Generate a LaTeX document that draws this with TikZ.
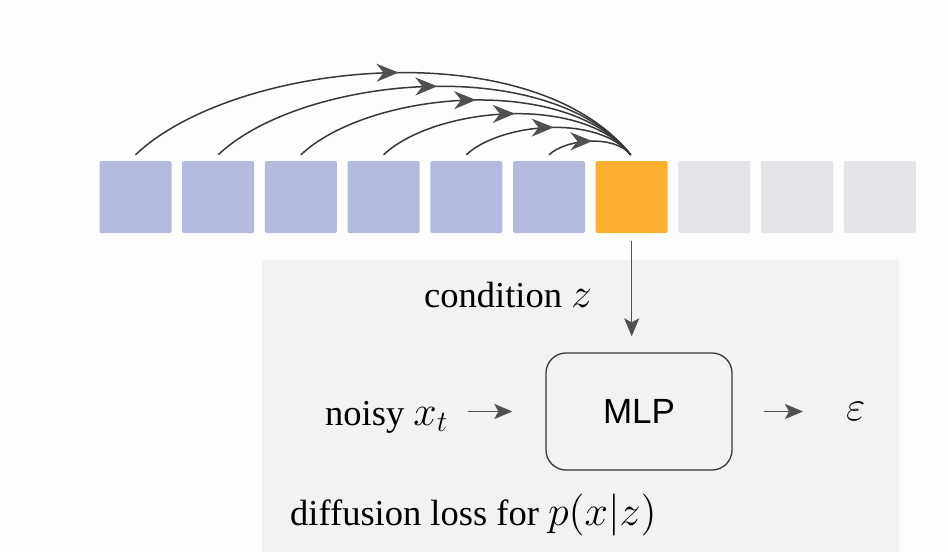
\documentclass[tikz,border=0pt]{standalone}
\usepackage{fontspec}
\setmainfont{Liberation Serif}
\newfontfamily\mlpfont{Liberation Sans}
\DeclareFontShape{OML}{cmm}{m}{it}{<-6>cmmi5<6-7>cmmi6<7-8>cmmi7<8-9>cmmi8<9-10>cmmi9<10-12>cmmi10<12->cmmi12}{}
\DeclareFontShape{OMS}{cmsy}{m}{n}{<-6>cmsy5<6-7>cmsy6<7-8>cmsy7<8-9>cmsy8<9-10>cmsy9<10->cmsy10}{}
\DeclareFontShape{OT1}{cmr}{m}{n}{<-6>cmr5<6-7>cmr6<7-8>cmr7<8-9>cmr8<9-10>cmr9<10-12>cmr10<12->cmr12}{}
\newcommand{\lgmath}[1]{{\fontsize{42}{48}\selectfont$#1$}}
\usetikzlibrary{arrows.meta,decorations.markings,calc}
\definecolor{bgc}{HTML}{FDFDFD}
\definecolor{panelc}{HTML}{F1F2F4}
\definecolor{bluec}{HTML}{B4B9DE}
\definecolor{orangec}{HTML}{FBAE30}
\definecolor{greyc}{HTML}{E3E4E8}
\definecolor{linec}{HTML}{383838}
\definecolor{headc}{HTML}{505050}
\tikzset{
  tok/.style={minimum width=72pt, minimum height=72pt, inner sep=0pt, rounded corners=2pt},
  bluetok/.style={tok, fill=bluec},
  orangetok/.style={tok, fill=orangec},
  greytok/.style={tok, fill=greyc},
  arcline/.style={draw=linec, line width=1.5pt,
    postaction={decorate, decoration={markings,
      mark=at position 0.525 with {\arrow[headc]{Stealth[length=22pt,width=18pt,inset=7pt]}}}}},
  flow/.style={draw=headc, line width=1.5pt, -{Stealth[length=18pt,width=15pt,inset=4pt]}},
  txt/.style={font=\fontsize{36.5}{40}\selectfont, inner sep=0pt, anchor=base west},
  mlpbox/.style={draw=linec, line width=1.3pt, rounded corners=20pt, minimum width=186pt,
    minimum height=117pt, fill=panelc, font=\mlpfont\fontsize{35}{40}\selectfont}
}
\begin{document}
\begin{tikzpicture}[x=1pt,y=-1pt]
\useasboundingbox (0,0) rectangle (948,552);
\fill[bgc] (0,0) rectangle (948,552);
\fill[panelc] (262,260) rectangle (899,552);
% tokens
\foreach \i in {0,...,5}{
  \node[bluetok] (b\i) at ({135.5+82.7*\i},197) {};
}
\node[orangetok] (o) at ({135.5+82.7*6},197) {};
\foreach \i in {7,8,9}{
  \node[greytok] (g\i) at ({135.5+82.7*\i},197) {};
}
% arcs
\foreach \i in {0,...,5}{
  \pgfmathsetmacro{\L}{82.7*(6-\i)}
  \draw[arcline] ($(b\i.north)+(0,-6)$) .. controls +({0.2*\L},{-0.19*\L}) and +({-0.2*\L},{-0.25*\L}) .. ($(o.north)+(-1,-6)$);
}
% lower part
\node[txt] (cond) at (424,307) {condition \lgmath{z}};
\node[mlpbox] (mlp) at (639,411.5) {MLP};
\node[txt] (noisy) at (325,425) {noisy \lgmath{x_t}};
\node[txt] (eps) at (846,420) {\lgmath{\varepsilon}};
\node[txt] (diff) at (290,525) {diffusion loss for \lgmath{p(x|z)}};
\draw[flow, shorten <=8pt, shorten >=16pt] (o.south) -- (mlp.north -| o.south);
\draw[flow, shorten <=20pt, shorten >=33pt] (noisy.east |- mlp.west) -- (mlp.west);
\draw[flow, shorten <=31pt, shorten >=43pt] (mlp.east) -- (mlp.east -| eps.west);
\end{tikzpicture}
\end{document}
